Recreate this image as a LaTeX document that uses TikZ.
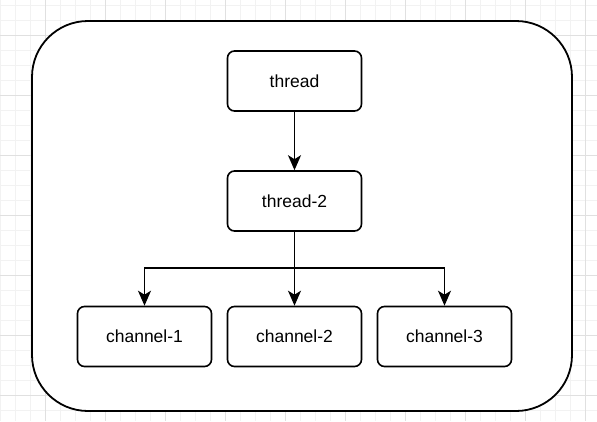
\documentclass[tikz,border=0pt]{standalone}
\usepackage{fontspec}
\setmainfont{Liberation Sans}
\usetikzlibrary{arrows.meta}
\definecolor{gridminor}{HTML}{F2F2F2}
\definecolor{gridmajor}{HTML}{E0E0E0}
\tikzset{
  box/.style={draw=black, line width=1.6pt, rounded corners=7pt, minimum width=134pt, minimum height=60pt, inner sep=0pt, font=\fontsize{17.5}{20}\selectfont, anchor=center},
  conn/.style={draw=black, line width=1.7pt, -{Stealth[length=15pt,width=13pt,inset=4pt]}}
}
\begin{document}
\begin{tikzpicture}[x=1pt,y=-1pt]
\useasboundingbox (0,0) rectangle (597,421);
\fill[white] (0,0) rectangle (597,421);
% grid
\foreach \i in {0,15,...,597} {\draw[gridminor, line width=0.8pt] (\i,0) -- (\i,421);}
\foreach \j in {5,20,...,421} {\draw[gridminor, line width=0.8pt] (0,\j) -- (597,\j);}
\foreach \i in {45,105,...,597} {\draw[gridmajor, line width=0.8pt] (\i,0) -- (\i,421);}
\foreach \j in {35,95,...,421} {\draw[gridmajor, line width=0.8pt] (0,\j) -- (597,\j);}
% outer container
\draw[black, line width=1.8pt, fill=white, rounded corners=56pt] (32,21) rectangle (572,411);
% nodes
\node[box] (t1) at (294.5,81) {thread};
\node[box] (t2) at (294.5,201) {thread-2};
\node[box] (c1) at (144.5,336.5) {channel-1};
\node[box] (c2) at (294.5,336.5) {channel-2};
\node[box] (c3) at (444.5,336.5) {channel-3};
\coordinate (bus) at (294.5,268);
% connectors
\draw[conn] (t1) -- (t2);
\draw[conn] (t2) -- (c2);
\draw[conn] (t2.south) |- (bus) -| (c1.north);
\draw[conn] (bus) -| (c3.north);
\end{tikzpicture}
\end{document}
